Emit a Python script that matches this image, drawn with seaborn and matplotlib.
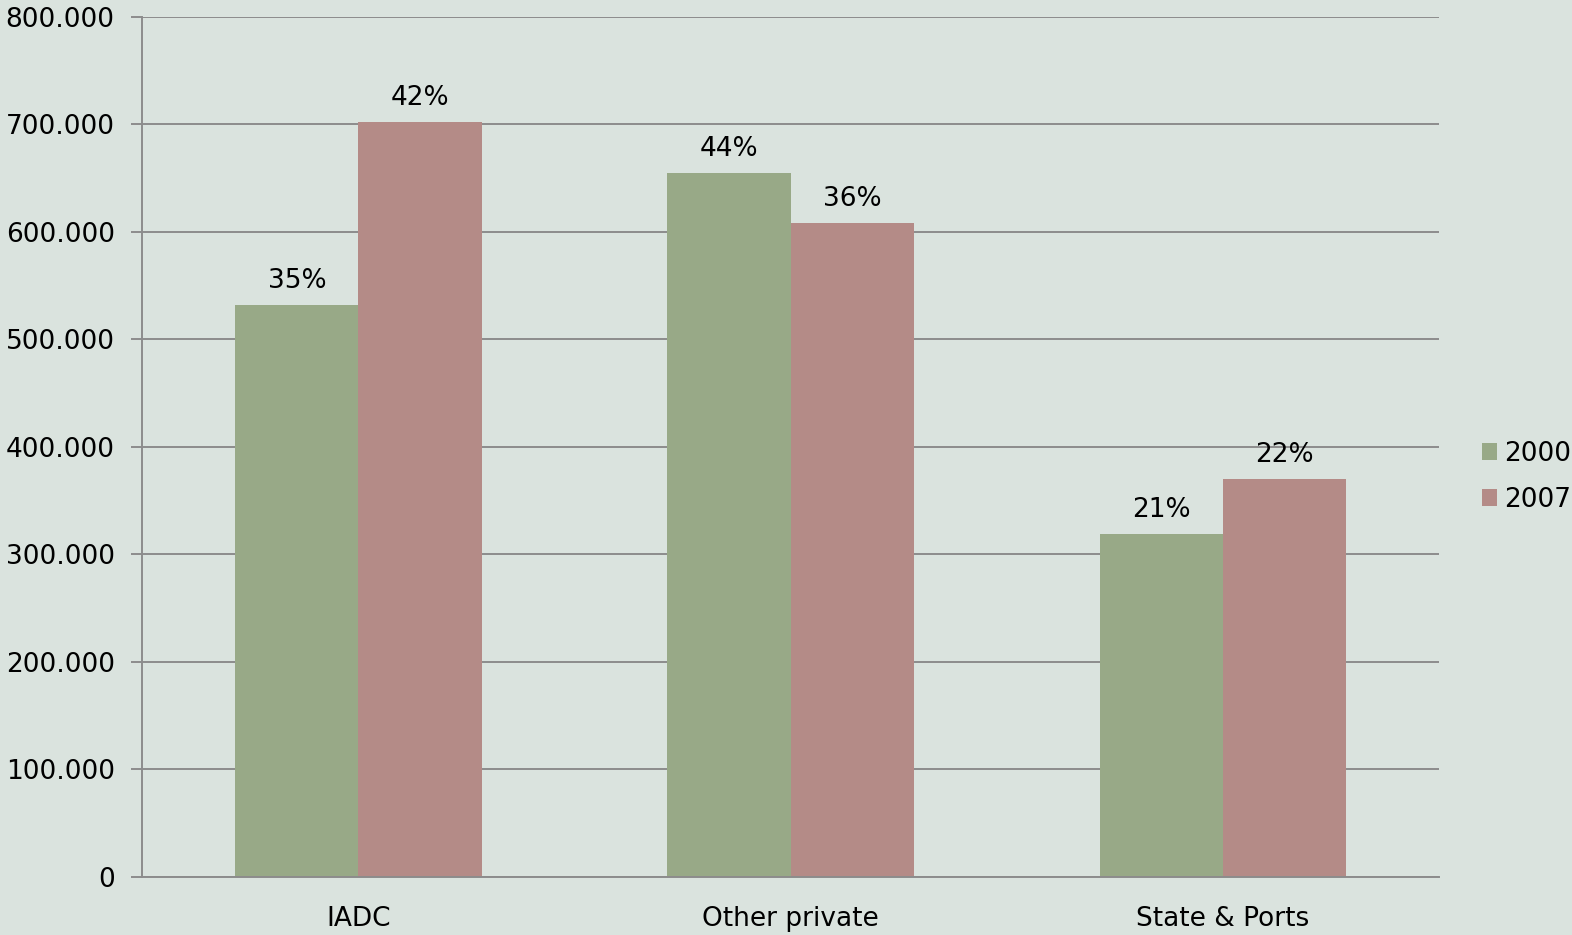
"""Grouped bar chart: volumes by sector, 2000 vs 2007, with share labels."""

import matplotlib
matplotlib.use("Agg")
import matplotlib.pyplot as plt
import pandas as pd
import seaborn as sns
from matplotlib.patches import Patch
from matplotlib.ticker import FuncFormatter, MultipleLocator

categories = ["IADC", "Other private", "State & Ports"]
years = ["2000", "2007"]
values_2000 = [532000, 655000, 319000]
values_2007 = [702000, 608000, 370000]
shares_2000 = ["35%", "44%", "21%"]
shares_2007 = ["42%", "36%", "22%"]

BG = "#dae3de"
GREEN = "#98a987"
ROSE = "#b48b87"
GRID = "#8c8c8c"


def thousands(v, _pos):
    return "0" if v == 0 else f"{v:,.0f}".replace(",", ".")


def main() -> None:
    df = pd.DataFrame({
        "category": categories * 2,
        "year": [years[0]] * 3 + [years[1]] * 3,
        "value": values_2000 + values_2007,
    })

    sns.set_style("white")
    plt.rcParams["font.family"] = ["DejaVu Sans"]
    plt.rcParams["text.color"] = "black"

    fig = plt.figure(figsize=(15.72, 9.35), dpi=100, facecolor=BG)
    ax = fig.add_axes([0.0906, 0.0622, 0.8246, 0.9197])
    ax.set_facecolor(BG)

    sns.barplot(data=df, x="category", y="value", hue="year", order=categories,
                hue_order=years, palette=[GREEN, ROSE], width=0.57, saturation=1,
                linewidth=0, legend=False, ax=ax)

    for container, labels in zip(ax.containers, [shares_2000, shares_2007]):
        ax.bar_label(container, labels=labels, padding=8, fontsize=19, color="black")

    ax.set_ylim(0, 800000)
    ax.set_xlim(-0.5, 2.5)
    ax.yaxis.set_major_locator(MultipleLocator(100000))
    ax.yaxis.set_major_formatter(FuncFormatter(thousands))
    ax.grid(axis="y", color=GRID, linewidth=1.4)
    ax.set_axisbelow(True)

    ax.set_xticks([-0.5, 0.5, 1.5, 2.5], minor=True)
    ax.tick_params(axis="x", which="major", length=0, pad=21, labelsize=19, labelcolor="black")
    ax.tick_params(axis="x", which="minor", length=8, width=1.4, color=GRID, direction="out")
    ax.tick_params(axis="y", length=8, width=1.4, color=GRID, pad=12, labelsize=19,
                   labelcolor="black", left=True)
    ax.set_xlabel("")
    ax.set_ylabel("")

    for side in ["top", "right"]:
        ax.spines[side].set_visible(False)
    for side in ["left", "bottom"]:
        ax.spines[side].set_color(GRID)
        ax.spines[side].set_linewidth(1.4)

    handles = [Patch(facecolor=GREEN, edgecolor="none", label=years[0]),
               Patch(facecolor=ROSE, edgecolor="none", label=years[1])]
    fig.legend(handles=handles, loc="center left", bbox_to_anchor=(0.9425, 0.49),
               frameon=False, fontsize=19, handlelength=0.6, handleheight=0.6,
               handletextpad=0.25, labelspacing=0.75, borderpad=0, borderaxespad=0)

    fig.savefig("out.png", dpi=100, facecolor=BG)
    plt.close(fig)


if __name__ == "__main__":
    main()
